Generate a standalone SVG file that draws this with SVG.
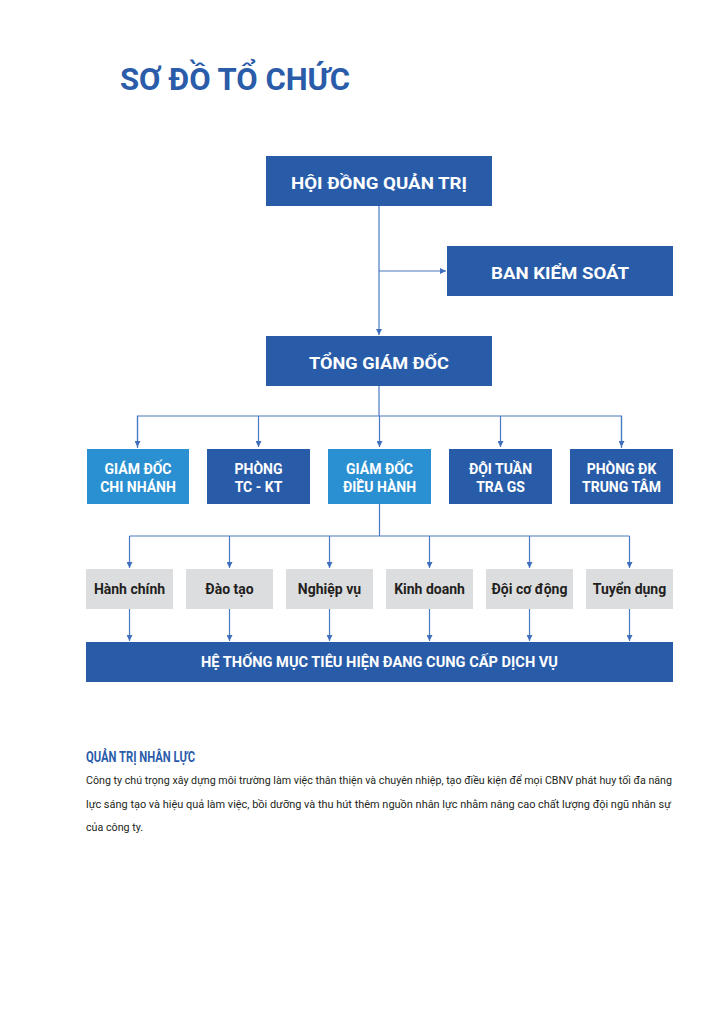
<svg xmlns="http://www.w3.org/2000/svg" width="724" height="1024" viewBox="0 0 724 1024">
<defs>
<marker id="ah" viewBox="0 0 6 6" refX="6" refY="3" markerWidth="6" markerHeight="6" orient="auto" markerUnits="userSpaceOnUse">
<path d="M0,0 L6,3 L0,6 Z" fill="#3f6fbd"/>
</marker>
<style>
.dark{fill:#285ca9}
.light{fill:#2a90d2}
.grey{fill:#dcdddf}
.t{font-family:Roboto,"Liberation Sans",sans-serif;font-weight:700;fill:#fff;text-anchor:middle}
.g{font-family:Roboto,"Liberation Sans",sans-serif;font-weight:700;fill:#231f20;text-anchor:middle;font-size:14px}
.c{fill:none;stroke:#4a78c2;stroke-width:1.2}
.p{font-family:Roboto,"Liberation Sans",sans-serif;font-size:11px;fill:#231f20}
</style>
</defs>
<rect width="724" height="1024" fill="#fff"/>
<text x="120" y="90" font-family="Roboto,'Liberation Sans',sans-serif" font-weight="700" font-size="32" fill="#2a5caa" textLength="230" lengthAdjust="spacingAndGlyphs">SƠ ĐỒ TỔ CHỨC</text>

<g id="connectors">
<path class="c" d="M379,206 V335" marker-end="url(#ah)"/>
<path class="c" d="M379,271 H446" marker-end="url(#ah)"/>
<path class="c" d="M379,386 V416"/>
<path class="c" d="M137.5,448 V416 H621.5 V448"/>
<path class="c" d="M137.5,416 V447" marker-end="url(#ah)"/>
<path class="c" d="M258.5,416 V447" marker-end="url(#ah)"/>
<path class="c" d="M379.5,416 V447" marker-end="url(#ah)"/>
<path class="c" d="M500.5,416 V447" marker-end="url(#ah)"/>
<path class="c" d="M621.5,416 V447" marker-end="url(#ah)"/>
<path class="c" d="M379.5,504 V536"/>
<path class="c" d="M129.5,536 H629.5"/>
<path class="c" d="M129.5,536 V568" marker-end="url(#ah)"/>
<path class="c" d="M229.5,536 V568" marker-end="url(#ah)"/>
<path class="c" d="M329.5,536 V568" marker-end="url(#ah)"/>
<path class="c" d="M429.5,536 V568" marker-end="url(#ah)"/>
<path class="c" d="M529.5,536 V568" marker-end="url(#ah)"/>
<path class="c" d="M629.5,536 V568" marker-end="url(#ah)"/>
<path class="c" d="M129.5,609 V641" marker-end="url(#ah)"/>
<path class="c" d="M229.5,609 V641" marker-end="url(#ah)"/>
<path class="c" d="M329.5,609 V641" marker-end="url(#ah)"/>
<path class="c" d="M429.5,609 V641" marker-end="url(#ah)"/>
<path class="c" d="M529.5,609 V641" marker-end="url(#ah)"/>
<path class="c" d="M629.5,609 V641" marker-end="url(#ah)"/>
</g>

<g id="hdqt"><rect class="dark" x="266" y="156" width="226" height="50"/><text class="t" x="379" y="189" font-size="17" textLength="176" lengthAdjust="spacingAndGlyphs">HỘI ĐỒNG QUẢN TRỊ</text></g>
<g id="bks"><rect class="dark" x="447" y="246" width="226" height="50"/><text class="t" x="560" y="279" font-size="17" textLength="138" lengthAdjust="spacingAndGlyphs">BAN KIỂM SOÁT</text></g>
<g id="tgd"><rect class="dark" x="266" y="336" width="226" height="50"/><text class="t" x="379" y="369" font-size="17" textLength="140" lengthAdjust="spacingAndGlyphs">TỔNG GIÁM ĐỐC</text></g>

<g id="gdcn"><rect class="light" x="87" y="449" width="102" height="55"/><text class="t" x="138" y="474" font-size="14">GIÁM ĐỐC</text><text class="t" x="138" y="492" font-size="14">CHI NHÁNH</text></g>
<g id="tckt"><rect class="dark" x="207" y="449" width="103" height="55"/><text class="t" x="258.5" y="474" font-size="14">PHÒNG</text><text class="t" x="258.5" y="492" font-size="14">TC - KT</text></g>
<g id="gddh"><rect class="light" x="328" y="449" width="103" height="55"/><text class="t" x="379.5" y="474" font-size="14">GIÁM ĐỐC</text><text class="t" x="379.5" y="492" font-size="14">ĐIỀU HÀNH</text></g>
<g id="dtt"><rect class="dark" x="449" y="449" width="103" height="55"/><text class="t" x="500.5" y="474" font-size="14">ĐỘI TUẦN</text><text class="t" x="500.5" y="492" font-size="14">TRA GS</text></g>
<g id="pdk"><rect class="dark" x="570" y="449" width="103" height="55"/><text class="t" x="621.5" y="474" font-size="14">PHÒNG ĐK</text><text class="t" x="621.5" y="492" font-size="14">TRUNG TÂM</text></g>

<g id="hc"><rect class="grey" x="86" y="569" width="87" height="40"/><text class="g" x="129.5" y="594">Hành chính</text></g>
<g id="dt"><rect class="grey" x="186" y="569" width="87" height="40"/><text class="g" x="229.5" y="594">Đào tạo</text></g>
<g id="nv"><rect class="grey" x="286" y="569" width="87" height="40"/><text class="g" x="329.5" y="594">Nghiệp vụ</text></g>
<g id="kd"><rect class="grey" x="386" y="569" width="87" height="40"/><text class="g" x="429.5" y="594">Kinh doanh</text></g>
<g id="dcd"><rect class="grey" x="486" y="569" width="87" height="40"/><text class="g" x="529.5" y="594">Đội cơ động</text></g>
<g id="td"><rect class="grey" x="586" y="569" width="87" height="40"/><text class="g" x="629.5" y="594">Tuyển dụng</text></g>

<g id="htmt"><rect class="dark" x="86" y="642" width="587" height="40"/><text class="t" x="379.5" y="667" font-size="14" textLength="357" lengthAdjust="spacingAndGlyphs">HỆ THỐNG MỤC TIÊU HIỆN ĐANG CUNG CẤP DỊCH VỤ</text></g>

<text x="86" y="762" font-family="Roboto,'Liberation Sans',sans-serif" font-weight="700" font-size="14" fill="#2a5caa" textLength="109" lengthAdjust="spacingAndGlyphs">QUẢN TRỊ NHÂN LỰC</text>
<text class="p" x="86" y="784" textLength="586" lengthAdjust="spacingAndGlyphs">Công ty chú trọng xây dựng môi trường làm việc thân thiện và chuyên nhiệp, tạo điều kiện để mọi CBNV phát huy tối đa năng</text>
<text class="p" x="86" y="808" textLength="585" lengthAdjust="spacingAndGlyphs">lực sáng tạo và hiệu quả làm việc, bồi dưỡng và thu hút thêm nguồn nhân lực nhằm nâng cao chất lượng đội ngũ nhân sự</text>
<text class="p" x="86" y="831" textLength="57" lengthAdjust="spacingAndGlyphs">của công ty.</text>
</svg>
